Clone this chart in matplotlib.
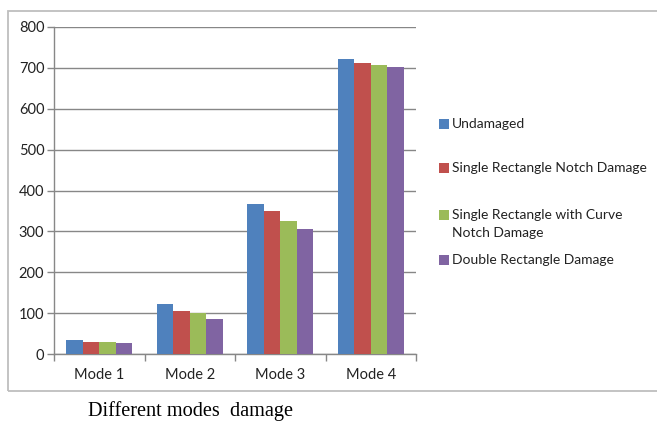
import matplotlib
matplotlib.use("Agg")
import matplotlib.pyplot as plt
from matplotlib.patches import Rectangle
import numpy as np

# Natural frequency values per mode for each damage case
categories = ["Mode 1", "Mode 2", "Mode 3", "Mode 4"]
series_names = [
    "Undamaged",
    "Single Rectangle Notch Damage",
    "Single Rectangle with Curve\nNotch Damage",
    "Double Rectangle Damage",
]
undamaged = [33.5, 123, 367, 721]
single_rect_notch = [29, 105, 350, 713]
single_rect_curve_notch = [29, 100, 325, 708]
double_rect = [26, 86, 305, 701]
y_ticks = [0, 100, 200, 300, 400, 500, 600, 700, 800]
x_title = "Different modes  damage"

values = [undamaged, single_rect_notch, single_rect_curve_notch, double_rect]
colors = ["#4F81BD", "#C0504D", "#9BBB59", "#8064A2"]

W, H = 657, 421
fig = plt.figure(figsize=(W / 100, H / 100), dpi=100)
fig.patch.set_facecolor("white")

def fx(px):
    return px / W

def fy(py):
    return 1 - py / H

# outer chart frame (right edge runs past the canvas)
fig.add_artist(Rectangle((fx(8), fy(391)), 1.2, fy(11) - fy(391),
                         transform=fig.transFigure, fill=False,
                         edgecolor="#BEBEBE", linewidth=1.3))

ax_l, ax_r, ax_t, ax_b = 54, 416, 27, 354
ax = fig.add_axes([fx(ax_l), fy(ax_b), fx(ax_r - ax_l), fy(ax_t) - fy(ax_b)])

font = "Lato"
grey = "#878787"
text_col = "#222222"

n = len(values)
w = 1 / 5.5
x = np.arange(len(categories))
for i, (vals, c) in enumerate(zip(values, colors)):
    ax.bar(x + (i - (n - 1) / 2) * w, vals, width=w, color=c, zorder=3,
           linewidth=0)

ax.set_xlim(-0.5, len(categories) - 0.5)
ax.set_ylim(0, 800)
ax.set_yticks(y_ticks)
ax.set_yticklabels([str(t) for t in y_ticks], fontfamily=font, fontsize=10.5,
                   color=text_col)
ax.set_xticks(x)
ax.set_xticklabels(categories, fontfamily=font, fontsize=10.5, color=text_col)
ax.set_xticks(np.arange(len(categories) + 1) - 0.5, minor=True)
ax.tick_params(axis="x", which="major", length=0, pad=10)
ax.tick_params(axis="x", which="minor", length=5, color=grey, width=1)
ax.tick_params(axis="y", length=5, color=grey, width=1, pad=2)

ax.grid(axis="y", color=grey, linewidth=1, zorder=0)
for s in ("top", "right"):
    ax.spines[s].set_visible(False)
for s in ("left", "bottom"):
    ax.spines[s].set_color(grey)
    ax.spines[s].set_linewidth(1)
ax.set_facecolor("white")

# legend: colour square plus one or two text lines per series
legend_rows = [124, 168, 215, 260]
for name, c, row in zip(series_names, colors, legend_rows):
    fig.add_artist(Rectangle((fx(439), fy(row + 5)), fx(10), fy(row - 5) - fy(row + 5),
                             transform=fig.transFigure, facecolor=c,
                             edgecolor="none"))
    for k, line in enumerate(name.split("\n")):
        fig.text(fx(452), fy(row + 18 * k), line, fontfamily=font,
                 fontsize=10, color=text_col, va="center")

fig.text(fx(190), fy(416), x_title, fontfamily="Liberation Serif",
         fontsize=14.6, color="black", ha="center", va="baseline")

fig.savefig("out.png", dpi=100, facecolor="white")
